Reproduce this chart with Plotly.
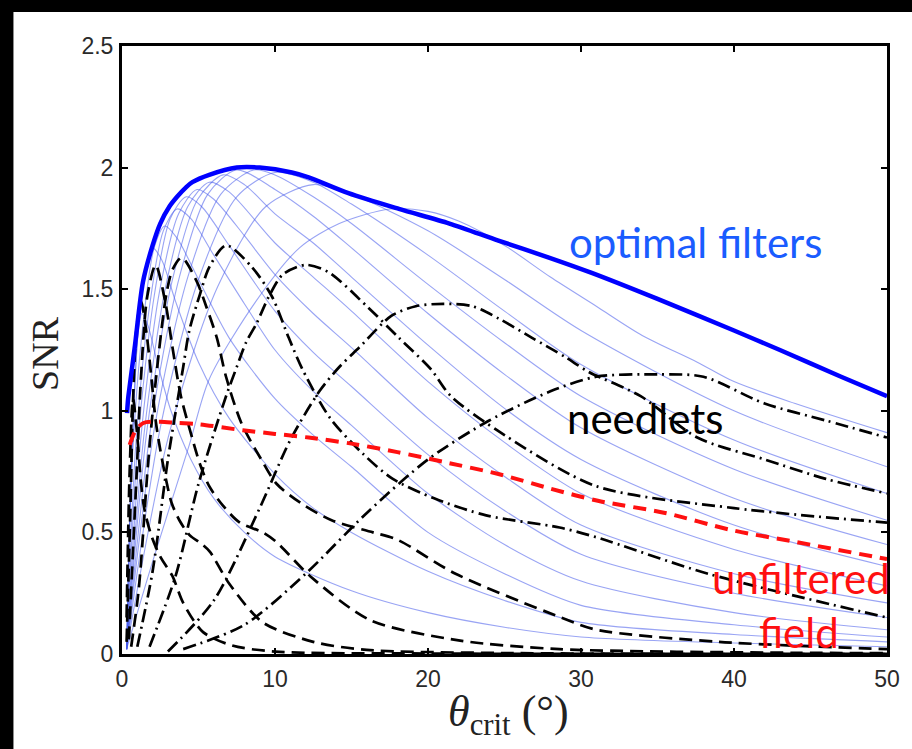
import plotly.graph_objects as go

# ---- data -------------------------------------------------------------
x_ticks = [0, 10, 20, 30, 40, 50]
y_ticks = [0, 0.5, 1, 1.5, 2, 2.5]

# envelope of the optimal filters
opt_x = [0.33, 0.4, 0.52, 0.85, 1.37, 2.0, 2.5, 3.1, 3.6, 4.2, 4.6, 5.7, 7.5, 9.0, 11.1, 12.2,
         14.8, 18.1, 21.4, 24.6, 27.9, 30.7, 35, 40, 43, 47, 50]
opt_y = [0.99, 1.05, 1.11, 1.27, 1.53, 1.68, 1.77, 1.84, 1.88, 1.92, 1.94, 1.97, 2.0, 2.0, 1.98, 1.96,
         1.895, 1.83, 1.77, 1.70, 1.63, 1.567, 1.46, 1.33, 1.25, 1.14, 1.06]

# individual optimal filters, one per scale
filt_x = [
    [0.3, 2.0, 4.4, 5.7, 8.75, 11.6, 14.2, 17.5, 20, 22, 25, 28, 31, 34, 37.6, 40, 44, 50],
    [0.3, 3.1, 6.25, 9.4, 12.5, 15, 20, 25, 30, 40, 50],
    [0.3, 2.5, 5, 7.5, 10, 12.5, 15, 20, 25, 30, 40, 50],
    [0.3, 2.15, 4.3, 6.45, 8.6, 10, 12.5, 15, 20, 25, 30, 40, 50],
    [0.3, 1.9, 3.75, 5.6, 7.5, 10, 12.5, 15, 20, 25, 30, 40, 50],
    [0.3, 1.65, 3.3, 4.95, 6.6, 8, 10, 12.5, 15, 20, 25, 30, 40, 50],
    [0.3, 1.45, 2.85, 4.3, 5.7, 7, 10, 12.5, 15, 20, 25, 30, 40, 50],
    [0.3, 1.25, 2.45, 3.7, 4.9, 6, 8, 10, 12.5, 15, 20, 25, 30, 40, 50],
    [0.3, 1.05, 2.1, 3.15, 4.2, 5.2, 7, 10, 12.5, 15, 20, 25, 30, 40, 50],
    [0.3, 0.9, 1.8, 2.7, 3.6, 4.5, 6, 8, 10, 12.5, 15, 20, 25, 30, 40, 50],
    [0.3, 0.7, 1.4, 2.1, 2.8, 3.6, 5, 7, 10, 12.5, 15, 20, 25, 30, 40, 50],
    [0.3, 0.6, 1.0, 1.5, 2.0, 2.6, 3.5, 5, 7, 10, 12.5, 15, 20, 25, 30, 40, 50],
    [0.3, 0.5, 0.8, 1.05, 1.3, 1.7, 2.3, 3.2, 4.5, 6, 8, 10, 15, 20, 25, 30, 40, 50],
]
filt_y = [
    [0.02, 0.38, 0.86, 1.13, 1.45, 1.67, 1.77, 1.83, 1.82, 1.78, 1.68, 1.55, 1.43, 1.31, 1.20, 1.12, 1.03, 0.91],
    [0.02, 0.91, 1.51, 1.84, 1.93, 1.89, 1.74, 1.54, 1.33, 1.00, 0.77],
    [0.02, 0.93, 1.54, 1.88, 1.98, 1.94, 1.85, 1.64, 1.41, 1.19, 0.88, 0.66],
    [0.02, 0.94, 1.55, 1.89, 1.99, 1.97, 1.88, 1.77, 1.52, 1.28, 1.06, 0.76, 0.55],
    [0.02, 0.94, 1.55, 1.89, 1.99, 1.91, 1.80, 1.67, 1.40, 1.15, 0.93, 0.64, 0.45],
    [0.02, 0.93, 1.54, 1.87, 1.97, 1.93, 1.81, 1.69, 1.55, 1.27, 1.01, 0.80, 0.53, 0.36],
    [0.02, 0.91, 1.51, 1.84, 1.94, 1.90, 1.69, 1.55, 1.41, 1.12, 0.87, 0.66, 0.43, 0.28],
    [0.02, 0.90, 1.49, 1.81, 1.91, 1.87, 1.72, 1.56, 1.40, 1.26, 0.97, 0.73, 0.53, 0.33, 0.21],
    [0.02, 0.88, 1.47, 1.79, 1.88, 1.84, 1.68, 1.41, 1.24, 1.10, 0.82, 0.59, 0.41, 0.25, 0.15],
    [0.02, 0.86, 1.43, 1.74, 1.83, 1.79, 1.64, 1.44, 1.25, 1.08, 0.94, 0.66, 0.45, 0.30, 0.17, 0.10],
    [0.02, 0.83, 1.37, 1.67, 1.76, 1.71, 1.54, 1.30, 1.05, 0.90, 0.77, 0.50, 0.33, 0.20, 0.12, 0.07],
    [0.02, 0.75, 1.28, 1.58, 1.67, 1.62, 1.45, 1.20, 0.97, 0.74, 0.60, 0.50, 0.34, 0.22, 0.13, 0.08, 0.05],
    [0.02, 0.55, 1.05, 1.32, 1.40, 1.35, 1.20, 1.00, 0.80, 0.64, 0.50, 0.40, 0.26, 0.17, 0.11, 0.07, 0.045, 0.03],
]

# needlets, widest scale first
need_x = [
    [4, 8, 12, 16, 20, 24, 28, 31, 35, 38, 42, 46, 50],
    [3, 6, 9, 11, 12.9, 14.2, 15.5, 17.6, 19.2, 21, 22.9, 24.6, 26.8, 29, 30.5, 33.9, 37.6, 42, 46, 50],
    [1.8, 3.5, 5, 6.8, 7.5, 8.1, 8.8, 9.6, 10.5, 12, 13.5, 16, 18.1, 20.2, 21.5, 25, 31, 40, 50],
    [1.0, 2.0, 3.0, 4.0, 4.4, 5.1, 5.7, 6.8, 8.5, 9.8, 10.9, 11.8, 13.6, 15.8, 17.7, 20.4, 23.8, 28.6, 31, 38.3, 50],
    [0.6, 1.1, 1.7, 2.2, 2.9, 3.3, 3.9, 4.9, 5.5, 6.2, 6.8, 7.8, 9.1, 10.1, 11.7, 13.7, 16.4, 18, 21.8, 28.7, 31, 39, 50],
    [0.45, 0.7, 1.0, 1.2, 1.65, 2.2, 2.85, 3.3, 3.85, 4.4, 5.1, 5.7, 6.6, 7.7, 9.2, 10.1, 12.3, 16.2, 22, 28.6, 44, 50],
    [0.3, 0.55, 0.7, 0.95, 1.25, 1.6, 1.9, 2.2, 2.5, 2.9, 3.25, 3.75, 4.4, 5.25, 5.75, 7, 9.2, 12.5, 16, 25, 50],
    [0.3, 0.5, 0.72, 0.95, 1.25, 1.45, 1.9, 2.5, 3.3, 4, 5.3, 7.2, 10, 20, 50],
]
need_y = [
    [0.02, 0.12, 0.33, 0.58, 0.80, 0.96, 1.08, 1.14, 1.15, 1.14, 1.03, 0.96, 0.89],
    [0.01, 0.22, 0.60, 0.88, 1.08, 1.18, 1.26, 1.39, 1.43, 1.44, 1.43, 1.38, 1.30, 1.22, 1.16, 1.06, 0.89, 0.80, 0.72, 0.66],
    [0.03, 0.32, 0.70, 1.06, 1.18, 1.28, 1.36, 1.47, 1.56, 1.60, 1.57, 1.43, 1.30, 1.17, 1.06, 0.90, 0.69, 0.60, 0.54],
    [0.03, 0.34, 0.80, 1.18, 1.33, 1.48, 1.59, 1.68, 1.59, 1.47, 1.30, 1.17, 0.97, 0.82, 0.72, 0.64, 0.57, 0.52, 0.48, 0.33, 0.15],
    [0.03, 0.27, 0.78, 1.12, 1.48, 1.58, 1.63, 1.53, 1.43, 1.30, 1.14, 0.95, 0.80, 0.70, 0.62, 0.55, 0.50, 0.47, 0.33, 0.15, 0.10, 0.05, 0.02],
    [0.06, 0.40, 0.80, 1.09, 1.47, 1.60, 1.44, 1.26, 1.06, 0.93, 0.78, 0.69, 0.61, 0.54, 0.50, 0.46, 0.32, 0.14, 0.056, 0.02, 0.005, 0.004],
    [0.05, 0.60, 1.00, 1.34, 1.45, 1.32, 1.15, 0.96, 0.84, 0.71, 0.62, 0.55, 0.49, 0.45, 0.42, 0.29, 0.13, 0.05, 0.017, 0.004, 0.001],
    [0.15, 0.75, 1.05, 0.93, 0.70, 0.60, 0.49, 0.40, 0.32, 0.21, 0.09, 0.035, 0.01, 0.002, 0.0],
]
need_dash = ["13px,5px,2px,5px", "13px,5px,2px,5px", "13px,5px,2px,5px", "13px,5px,2px,5px",
             "13px,7px", "13px,7px", "13px,7px", "13px,7px"]

# unfiltered field
raw_x = [0.5, 0.9, 1.4, 2.5, 3.6, 5, 7.9, 10, 12.2, 15, 18, 21, 24.6, 28, 31.1, 35.5, 39.8, 44.1, 50]
raw_y = [0.86, 0.92, 0.95, 0.955, 0.95, 0.945, 0.92, 0.905, 0.89, 0.865, 0.83, 0.79, 0.74, 0.68, 0.63,
         0.58, 0.51, 0.46, 0.39]

# ---- figure -----------------------------------------------------------
fig = go.Figure()

for xs, ys in zip(filt_x, filt_y):
    fig.add_trace(go.Scatter(x=xs, y=ys, mode="lines",
                             line=dict(color="rgba(70,90,235,0.55)", width=1.1,
                                       shape="spline", smoothing=0.8),
                             hoverinfo="skip", showlegend=False))

for xs, ys, dsh in zip(need_x, need_y, need_dash):
    fig.add_trace(go.Scatter(x=xs, y=ys, mode="lines",
                             line=dict(color="black", width=2.7, dash=dsh,
                                       shape="spline", smoothing=0.8),
                             hoverinfo="skip", showlegend=False))

fig.add_trace(go.Scatter(x=raw_x, y=raw_y, mode="lines",
                         line=dict(color="#ff1010", width=4, dash="13px,8px",
                                   shape="spline", smoothing=0.8),
                         hoverinfo="skip", showlegend=False))

fig.add_trace(go.Scatter(x=opt_x, y=opt_y, mode="lines",
                         line=dict(color="#0000ff", width=4.5, shape="spline", smoothing=0.8),
                         hoverinfo="skip", showlegend=False))

axis_common = dict(showline=True, linecolor="black", linewidth=3, mirror="ticks",
                   ticks="inside", ticklen=6, tickwidth=2, tickcolor="black",
                   showgrid=False, zeroline=False,
                   tickfont=dict(family="Liberation Sans, Arial, sans-serif", size=23, color="#2a2a2a"))

fig.update_xaxes(range=[0, 50], tickvals=x_ticks, ticktext=[str(v) for v in x_ticks],
                 ticklabelstandoff=2, **axis_common)
fig.update_yaxes(range=[0, 2.5], tickvals=y_ticks, ticktext=[f"{v:g}" for v in y_ticks],
                 ticklabelstandoff=1, **axis_common)

# dark frame strips along the top and left edges
fig.add_shape(type="rect", xref="paper", yref="paper", x0=-0.2, x1=1.1, y0=1.0559, y1=1.12,
              fillcolor="black", line=dict(width=0), layer="below")
fig.add_shape(type="rect", xref="paper", yref="paper", x0=-0.2, x1=-0.1419, y0=-0.2, y1=1.12,
              fillcolor="black", line=dict(width=0), layer="below")

serif = "Liberation Serif, Times New Roman, serif"
hum = "Lato, Open Sans, sans-serif"
fig.add_annotation(xref="paper", yref="paper", x=-0.1016, y=0.494, xanchor="center", yanchor="middle",
                   text="SNR", showarrow=False, textangle=-90,
                   font=dict(family=serif, size=38, color="#222"))
fig.add_annotation(xref="paper", yref="paper", x=0.505, y=-0.1, xanchor="center", yanchor="middle",
                   text="<i>θ</i><sub>crit</sub> (°)", showarrow=False,
                   font=dict(family=serif, size=44, color="#222"))

fig.add_annotation(x=37.5, y=1.694, text="optimal filters", showarrow=False,
                   xanchor="center", yanchor="middle",
                   font=dict(family=hum, size=42, color="#1a5cff"))
fig.add_annotation(x=34.2, y=0.97, text="needlets", showarrow=False,
                   xanchor="center", yanchor="middle",
                   font=dict(family=hum, size=42, color="black"))
fig.add_annotation(x=44.35, y=0.3125, text="unfiltered", showarrow=False,
                   xanchor="center", yanchor="middle",
                   font=dict(family=hum, size=42, color="#ff1010"))
fig.add_annotation(x=44.25, y=0.09, text="field", showarrow=False,
                   xanchor="center", yanchor="middle",
                   font=dict(family=hum, size=42, color="#ff1010"))

fig.update_layout(width=912, height=749, paper_bgcolor="white", plot_bgcolor="white",
                  margin=dict(l=122, r=22, t=46, b=95), showlegend=False)

fig.write_html("out.html")
